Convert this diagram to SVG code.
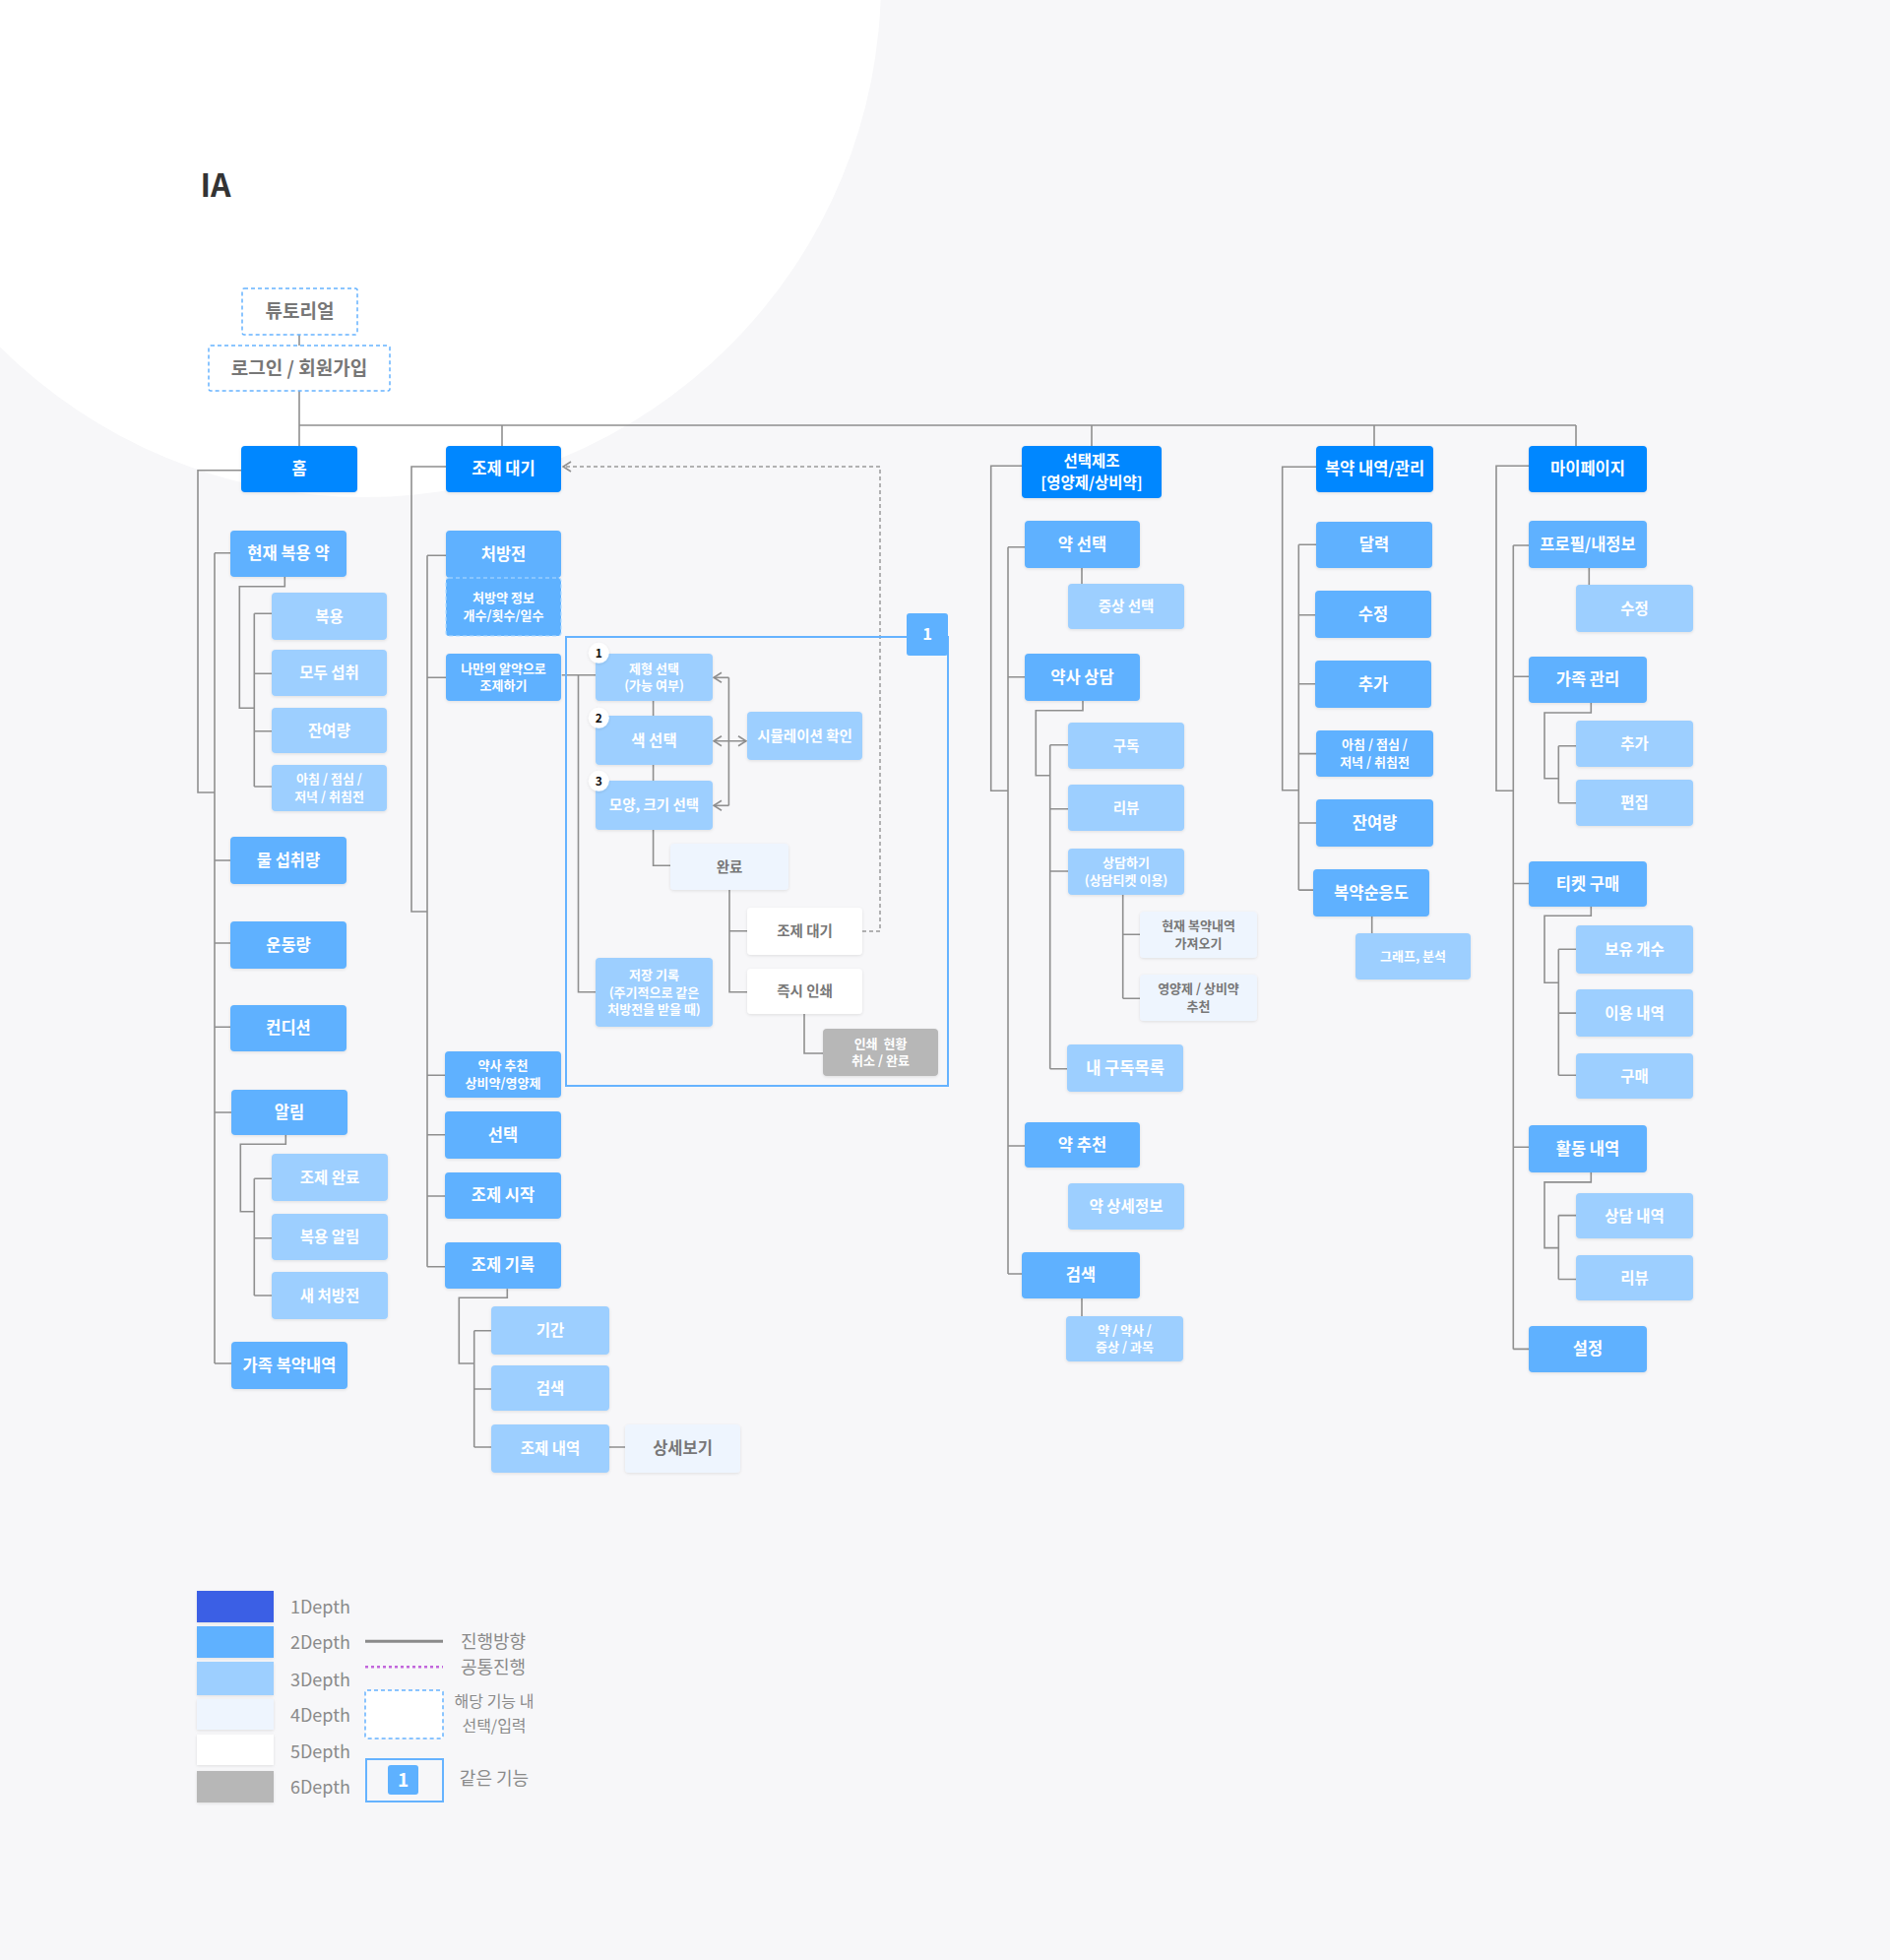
<svg xmlns="http://www.w3.org/2000/svg" width="1920" height="1991" viewBox="0 0 1920 1991">
<style>
  text { font-family: "Noto Sans CJK KR", "Noto Sans", sans-serif; text-anchor: middle; }
  .d1 { fill: #0687ff; }
  .d2 { fill: #5eb1ff; }
  .d3 { fill: #9dcfff; }
  .d4 { fill: #eef5fe; }
  .d5 { fill: #ffffff; }
  .d6 { fill: #b7b7b7; }
  .nd { filter: url(#sh); }
  .dash { fill: #ffffff; stroke: #66b3ff; stroke-width: 1.5; stroke-dasharray: 4 3; }
  .w { fill: #ffffff; font-weight: 700; }
  .wb { fill: #ffffff; font-weight: 700; }
  .g { fill: #777777; font-weight: 700; }
  .f18 { font-size: 19px; }
  .f16 { font-size: 16.5px; }
  .f15 { font-size: 15.5px; }
  .f14 { font-size: 14.5px; }
  .f13 { font-size: 13px; }
  .ln { fill: none; stroke: #8f8f8f; stroke-width: 1.6; }
  .dl { fill: none; stroke: #9a9a9a; stroke-width: 1.5; stroke-dasharray: 4 3; }
  .badge { fill: #ffffff; filter: url(#sh); }
  .bt { fill: #111111; font-size: 12px; font-weight: 700; }
  .lg { fill: #8a8a8a; font-size: 18px; text-anchor: start; }
  .lgm { fill: #8a8a8a; font-size: 18px; }
</style>
<defs>
  <filter id="sh" x="-10%" y="-15%" width="120%" height="140%">
    <feDropShadow dx="0" dy="1" stdDeviation="1.5" flood-color="#000000" flood-opacity="0.1"/>
  </filter>
  <marker id="arr" viewBox="0 0 10 12" refX="9" refY="6" markerWidth="10" markerHeight="12" markerUnits="userSpaceOnUse" orient="auto-start-reverse">
    <path d="M1 1 L9 6 L1 11" fill="none" stroke="#8f8f8f" stroke-width="1.6"/>
  </marker>
</defs>

<!-- backdrop -->
<rect x="0" y="0" width="1920" height="1991" fill="#f7f7f9"/>
<circle cx="370" cy="-20" r="525" fill="#ffffff"/>

<text x="219" y="200" style="font-size:32px;font-weight:700;fill:#333333">IA</text>

<!-- connectors -->
<g id="connectors">
  <!-- entry and top bar -->
  <path class="ln" d="M304 340 V351 M304 397 V453 M304 432 H1601 M510 432 V453 M1109 432 V453 M1396 432 V453 M1601 432 V453"/>

  <!-- home -->
  <path class="ln" d="M245 477.7 H201 V805 H218 M218 561.7 V1385"/>
  <path class="ln" d="M218 561.7 H234 M218 874 H234 M218 958 H234 M218 1043.3 H234 M218 1130 H235 M218 1385 H235"/>
  <path class="ln" d="M289.3 586 V595.7 H243.3 V719.3 H258.3 M258.3 623.3 V799 M258.3 623.3 H276 M258.3 684.3 H276 M258.3 742.7 H276 M258.3 799 H276"/>
  <path class="ln" d="M290.3 1153 V1162.3 H244.3 V1230.7 H258.3 M258.3 1197.3 V1316 M258.3 1197.3 H276 M258.3 1257.7 H276 M258.3 1316 H276"/>

  <!-- dispensing queue -->
  <path class="ln" d="M453 474 H418 V926 H434 M434 564.3 V1286.7"/>
  <path class="ln" d="M434 564.3 H453 M434 688.3 H453 M434 1092.3 H452 M434 1152.7 H452 M434 1215 H452 M434 1286.7 H452"/>
  <path class="ln" d="M570.7 685.7 H605 M587.5 685.7 V1007.7 H605"/>
  <path class="ln" d="M663.6 712 V727 M663.6 777 V793 M663.6 843 V879.3 H681"/>
  <path class="ln" d="M741 904 V1007.7 H759 M741 945.7 H759 M817 1030 V1070 H836"/>
  <path class="ln" d="M740.4 688.3 V818.3"/>
  <path class="ln" d="M740.4 688.3 H725" marker-end="url(#arr)"/>
  <path class="ln" d="M740.4 818.3 H725" marker-end="url(#arr)"/>
  <path class="ln" d="M725 752.7 H758" marker-start="url(#arr)" marker-end="url(#arr)"/>
  <path class="dl" d="M876 946 H894 V474 H572" marker-end="url(#arr)"/>
  <path class="ln" d="M515.3 1309.3 V1318.3 H466.3 V1385 H481.7 M481.7 1351.7 V1470 M481.7 1351.7 H499 M481.7 1411 H499 M481.7 1470 H499 M619 1470 H635"/>

  <!-- selective dispensing -->
  <path class="ln" d="M1038 473.3 H1006.7 V803.3 H1024 M1024 555.7 V1294"/>
  <path class="ln" d="M1024 555.7 H1041 M1024 687.7 H1041 M1024 1164 H1041 M1024 1294 H1038"/>
  <path class="ln" d="M1099 577 V593"/>
  <path class="ln" d="M1100 712 V721.7 H1052.3 V787.7 H1066.7 M1066.7 756.7 V1085.7 M1066.7 756.7 H1085 M1066.7 821.7 H1085 M1066.7 885 H1085 M1066.7 1085.7 H1084"/>
  <path class="ln" d="M1140.7 909 V1014.3 M1140.7 949.3 H1158 M1140.7 1014.3 H1158"/>
  <path class="ln" d="M1099 1319 V1337"/>

  <!-- medication log -->
  <path class="ln" d="M1337 474.3 H1302.7 V802.7 H1319.3 M1319.3 553.2 V904.1"/>
  <path class="ln" d="M1319.3 553.2 H1337 M1319.3 624.7 H1336 M1319.3 694.8 H1336 M1319.3 765.6 H1337 M1319.3 836 H1337 M1319.3 904.1 H1334"/>
  <path class="ln" d="M1393.7 931 V948"/>

  <!-- my page -->
  <path class="ln" d="M1553 473.3 H1520 V803.3 H1537.3 M1537.3 554 V1370.4"/>
  <path class="ln" d="M1537.3 554 H1553 M1537.3 687.3 H1553 M1537.3 897.5 H1553 M1537.3 1165.2 H1553 M1537.3 1370.4 H1553"/>
  <path class="ln" d="M1614.3 577 V594"/>
  <path class="ln" d="M1616.3 714 V724 H1569 V790.7 H1583.3 M1583.3 757.7 V815.7 M1583.3 757.7 H1601 M1583.3 815.7 H1601"/>
  <path class="ln" d="M1616.3 921 V930.2 H1569 V998.2 H1583.3 M1583.3 964.2 V1092.2 M1583.3 964.2 H1601 M1583.3 1029.1 H1601 M1583.3 1092.2 H1601"/>
  <path class="ln" d="M1616.3 1191 V1200.9 H1569 V1267.6 H1583.3 M1583.3 1234.6 V1299.5 M1583.3 1234.6 H1601 M1583.3 1299.5 H1601"/>
</g>

<!-- entry -->
<g id="tutorial"><rect class="dash" x="246" y="293" width="117" height="47" rx="2"/><text class="g f18" x="304.5" y="323.3">튜토리얼</text></g>
<g id="login"><rect class="dash" x="212" y="351" width="184" height="46" rx="2"/><text class="g f18" x="304" y="380.8">로그인 / 회원가입</text></g>

<!-- home column -->
<g id="home"><rect class="d1 nd" x="245" y="453" width="118" height="47" rx="4"/><text class="wb f16" x="304" y="482.3">홈</text></g>
<g id="current-meds"><rect class="d2 nd" x="234" y="539" width="118" height="47" rx="4"/><text class="w f16" x="293" y="568.3">현재 복용 약</text></g>
<g id="take"><rect class="d3 nd" x="276" y="602" width="117" height="48" rx="4"/><text class="w f15" x="334.5" y="631.5">복용</text></g>
<g id="take-all"><rect class="d3 nd" x="276" y="660" width="117" height="47" rx="4"/><text class="w f15" x="334.5" y="689">모두 섭취</text></g>
<g id="remaining"><rect class="d3 nd" x="276" y="719" width="117" height="46" rx="4"/><text class="w f15" x="334.5" y="747.5">잔여량</text></g>
<g id="times"><rect class="d3 nd" x="276" y="777" width="117" height="47" rx="4"/><text class="w f13" x="334.5" y="796.3">아침 / 점심 /</text><text class="w f13" x="334.5" y="813.8">저녁 / 취침전</text></g>
<g id="water"><rect class="d2 nd" x="234" y="850" width="118" height="48" rx="4"/><text class="w f16" x="293" y="879.8">물 섭취량</text></g>
<g id="exercise"><rect class="d2 nd" x="234" y="936" width="118" height="48" rx="4"/><text class="w f16" x="293" y="965.8">운동량</text></g>
<g id="condition"><rect class="d2 nd" x="234" y="1021" width="118" height="47" rx="4"/><text class="w f16" x="293" y="1050.3">컨디션</text></g>
<g id="alarm"><rect class="d2 nd" x="235" y="1107" width="118" height="46" rx="4"/><text class="w f16" x="294" y="1135.8">알림</text></g>
<g id="alarm-done"><rect class="d3 nd" x="276" y="1172" width="118" height="48" rx="4"/><text class="w f15" x="335" y="1201.5">조제 완료</text></g>
<g id="alarm-take"><rect class="d3 nd" x="276" y="1233" width="118" height="47" rx="4"/><text class="w f15" x="335" y="1262">복용 알림</text></g>
<g id="alarm-new"><rect class="d3 nd" x="276" y="1292" width="118" height="48" rx="4"/><text class="w f15" x="335" y="1321.5">새 처방전</text></g>
<g id="family-log"><rect class="d2 nd" x="235" y="1363" width="118" height="48" rx="4"/><text class="w f16" x="294" y="1392.8">가족 복약내역</text></g>

<!-- dispensing queue column -->
<g id="queue"><rect class="d1 nd" x="453" y="453" width="117" height="47" rx="4"/><text class="wb f16" x="511.5" y="482.3">조제 대기</text></g>
<g id="prescription"><rect class="d2 nd" x="453" y="539" width="117" height="48" rx="4"/><text class="w f16" x="511.5" y="568.8">처방전</text></g>
<g id="prescription-info"><rect class="d2" x="453" y="587" width="117" height="59" rx="3" stroke="#b4dcff" stroke-width="1.2" stroke-dasharray="4 3"/><text class="w f13" x="511.5" y="612.3">처방약 정보</text><text class="w f13" x="511.5" y="629.8">개수/횟수/일수</text></g>
<g id="my-pill"><rect class="d2 nd" x="453" y="664" width="117" height="48" rx="4"/><text class="w f13" x="511.5" y="683.8">나만의 알약으로</text><text class="w f13" x="511.5" y="701.3">조제하기</text></g>

<g id="same-function-frame">
  <rect x="575" y="647" width="388" height="456" fill="none" stroke="#66b3ff" stroke-width="2"/>
  <rect class="d2" x="921" y="623" width="42" height="43" rx="3"/>
  <text class="w f16" x="942" y="650.3">1</text>
</g>

<g id="form-select"><rect class="d3 nd" x="605" y="664" width="119" height="48" rx="4"/><text class="w f13" x="664.5" y="683.8">제형 선택</text><text class="w f13" x="664.5" y="701.3">(가능 여부)</text><circle class="badge" cx="608.3" cy="663.3" r="10.5"/><text class="bt" x="608.3" y="667.5">1</text></g>
<g id="color-select"><rect class="d3 nd" x="605" y="727" width="119" height="50" rx="4"/><text class="w f15" x="664.5" y="757.5">색 선택</text><circle class="badge" cx="608.3" cy="729.3" r="10.5"/><text class="bt" x="608.3" y="733.5">2</text></g>
<g id="shape-select"><rect class="d3 nd" x="605" y="793" width="119" height="50" rx="4"/><text class="w f14" x="664.5" y="823.1">모양, 크기 선택</text><circle class="badge" cx="608.3" cy="793.3" r="10.5"/><text class="bt" x="608.3" y="797.5">3</text></g>
<g id="simulation"><rect class="d3 nd" x="759" y="723" width="117" height="49" rx="4"/><text class="w f14" x="817.5" y="752.6">시뮬레이션 확인</text></g>
<g id="done"><rect class="d4 nd" x="681" y="857" width="120" height="47" rx="4"/><text class="g f14" x="741" y="885.6">완료</text></g>
<g id="queue-again"><rect class="d5 nd" x="759" y="922" width="117" height="48" rx="4"/><text class="g f14" x="817.5" y="951.1">조제 대기</text></g>
<g id="print-now"><rect class="d5 nd" x="759" y="984" width="117" height="46" rx="4"/><text class="g f14" x="817.5" y="1012.1">즉시 인쇄</text></g>
<g id="print-status"><rect class="d6 nd" x="836" y="1045" width="117" height="48" rx="4"/><text class="w f13" x="894.5" y="1064.8" xml:space="preserve">인쇄  현황</text><text class="w f13" x="894.5" y="1082.3">취소 / 완료</text></g>
<g id="save-record"><rect class="d3 nd" x="605" y="973" width="119" height="70" rx="4"/><text class="w f13" x="664.5" y="995.1">저장 기록</text><text class="w f13" x="664.5" y="1012.6">(주기적으로 같은</text><text class="w f13" x="664.5" y="1030.1">처방전을 받을 때)</text></g>

<g id="pharmacist-pick"><rect class="d2 nd" x="452" y="1068" width="118" height="47" rx="4"/><text class="w f13" x="511" y="1087.3">약사 추천</text><text class="w f13" x="511" y="1104.8">상비약/영양제</text></g>
<g id="select"><rect class="d2 nd" x="452" y="1129" width="118" height="48" rx="4"/><text class="w f16" x="511" y="1158.8">선택</text></g>
<g id="start"><rect class="d2 nd" x="452" y="1191" width="118" height="47" rx="4"/><text class="w f16" x="511" y="1220.3">조제 시작</text></g>
<g id="history"><rect class="d2 nd" x="452" y="1262" width="118" height="47" rx="4"/><text class="w f16" x="511" y="1291.3">조제 기록</text></g>
<g id="period"><rect class="d3 nd" x="499" y="1327" width="120" height="49" rx="4"/><text class="w f15" x="559" y="1357">기간</text></g>
<g id="history-search"><rect class="d3 nd" x="499" y="1387" width="120" height="46" rx="4"/><text class="w f15" x="559" y="1415.5">검색</text></g>
<g id="history-list"><rect class="d3 nd" x="499" y="1447" width="120" height="49" rx="4"/><text class="w f15" x="559" y="1477">조제 내역</text></g>
<g id="detail"><rect class="d4 nd" x="635" y="1447" width="117" height="49" rx="4"/><text class="g f16" x="693.5" y="1477.3">상세보기</text></g>

<!-- selective dispensing column -->
<g id="selective"><rect class="d1 nd" x="1038" y="453" width="142" height="53" rx="4"/><text class="wb f15" x="1109" y="473.8">선택제조</text><text class="wb f15" x="1109" y="495.8">[영양제/상비약]</text></g>
<g id="med-select"><rect class="d2 nd" x="1041" y="529" width="117" height="48" rx="4"/><text class="w f16" x="1099.5" y="558.8">약 선택</text></g>
<g id="symptom"><rect class="d3 nd" x="1085" y="593" width="118" height="46" rx="4"/><text class="w f14" x="1144" y="621.1">증상 선택</text></g>
<g id="consult"><rect class="d2 nd" x="1041" y="664" width="117" height="48" rx="4"/><text class="w f16" x="1099.5" y="693.8">약사 상담</text></g>
<g id="subscribe"><rect class="d3 nd" x="1085" y="734" width="118" height="47" rx="4"/><text class="w f14" x="1144" y="762.6">구독</text></g>
<g id="review"><rect class="d3 nd" x="1085" y="797" width="118" height="47" rx="4"/><text class="w f14" x="1144" y="825.6">리뷰</text></g>
<g id="do-consult"><rect class="d3 nd" x="1085" y="862" width="118" height="47" rx="4"/><text class="w f13" x="1144" y="881.3">상담하기</text><text class="w f13" x="1144" y="898.8">(상담티켓 이용)</text></g>
<g id="import-log"><rect class="d4 nd" x="1158" y="926" width="119" height="47" rx="4"/><text class="g f13" x="1217.5" y="945.3">현재 복약내역</text><text class="g f13" x="1217.5" y="962.8">가져오기</text></g>
<g id="suggest"><rect class="d4 nd" x="1158" y="990" width="119" height="47" rx="4"/><text class="g f13" x="1217.5" y="1009.3">영양제 / 상비약</text><text class="g f13" x="1217.5" y="1026.8">추천</text></g>
<g id="my-subs"><rect class="d3 nd" x="1084" y="1061" width="118" height="48" rx="4"/><text class="w f16" x="1143" y="1090.8">내 구독목록</text></g>
<g id="med-rec"><rect class="d2 nd" x="1041" y="1140" width="117" height="46" rx="4"/><text class="w f16" x="1099.5" y="1168.8">약 추천</text></g>
<g id="med-detail"><rect class="d3 nd" x="1085" y="1202" width="118" height="47" rx="4"/><text class="w f15" x="1144" y="1231">약 상세정보</text></g>
<g id="search"><rect class="d2 nd" x="1038" y="1272" width="120" height="47" rx="4"/><text class="w f16" x="1098" y="1301.3">검색</text></g>
<g id="search-scope"><rect class="d3 nd" x="1083" y="1337" width="119" height="46" rx="4"/><text class="w f13" x="1142.5" y="1355.8">약 / 약사 /</text><text class="w f13" x="1142.5" y="1373.3">증상 / 과목</text></g>

<!-- medication log column -->
<g id="med-log"><rect class="d1 nd" x="1337" y="453" width="119" height="47" rx="4"/><text class="wb f16" x="1396.5" y="482.3">복약 내역/관리</text></g>
<g id="calendar"><rect class="d2 nd" x="1337" y="530" width="118" height="47" rx="4"/><text class="w f16" x="1396" y="559.3">달력</text></g>
<g id="log-edit"><rect class="d2 nd" x="1336" y="600" width="118" height="48" rx="4"/><text class="w f16" x="1395" y="629.8">수정</text></g>
<g id="log-add"><rect class="d2 nd" x="1336" y="671" width="118" height="48" rx="4"/><text class="w f16" x="1395" y="700.8">추가</text></g>
<g id="log-times"><rect class="d2 nd" x="1337" y="742" width="119" height="47" rx="4"/><text class="w f13" x="1396.5" y="761.3">아침 / 점심 /</text><text class="w f13" x="1396.5" y="778.8">저녁 / 취침전</text></g>
<g id="log-remaining"><rect class="d2 nd" x="1337" y="812" width="119" height="48" rx="4"/><text class="w f16" x="1396.5" y="841.8">잔여량</text></g>
<g id="adherence"><rect class="d2 nd" x="1334" y="883" width="118" height="48" rx="4"/><text class="w f16" x="1393" y="912.8">복약순응도</text></g>
<g id="graph"><rect class="d3 nd" x="1377" y="948" width="117" height="47" rx="4"/><text class="w f13" x="1435.5" y="976.1">그래프, 분석</text></g>

<!-- my page column -->
<g id="mypage"><rect class="d1 nd" x="1553" y="453" width="120" height="47" rx="4"/><text class="wb f16" x="1613" y="482.3">마이페이지</text></g>
<g id="profile"><rect class="d2 nd" x="1553" y="529" width="120" height="48" rx="4"/><text class="w f16" x="1613" y="558.8">프로필/내정보</text></g>
<g id="profile-edit"><rect class="d3 nd" x="1601" y="594" width="119" height="48" rx="4"/><text class="w f15" x="1660.5" y="623.5">수정</text></g>
<g id="family"><rect class="d2 nd" x="1553" y="667" width="120" height="47" rx="4"/><text class="w f16" x="1613" y="696.3">가족 관리</text></g>
<g id="family-add"><rect class="d3 nd" x="1601" y="732" width="119" height="47" rx="4"/><text class="w f15" x="1660.5" y="761">추가</text></g>
<g id="family-edit"><rect class="d3 nd" x="1601" y="792" width="119" height="47" rx="4"/><text class="w f15" x="1660.5" y="821">편집</text></g>
<g id="ticket"><rect class="d2 nd" x="1553" y="875" width="120" height="46" rx="4"/><text class="w f16" x="1613" y="903.8">티켓 구매</text></g>
<g id="ticket-own"><rect class="d3 nd" x="1601" y="940" width="119" height="49" rx="4"/><text class="w f15" x="1660.5" y="970">보유 개수</text></g>
<g id="ticket-use"><rect class="d3 nd" x="1601" y="1005" width="119" height="48" rx="4"/><text class="w f15" x="1660.5" y="1034.5">이용 내역</text></g>
<g id="ticket-buy"><rect class="d3 nd" x="1601" y="1070" width="119" height="46" rx="4"/><text class="w f15" x="1660.5" y="1098.5">구매</text></g>
<g id="activity"><rect class="d2 nd" x="1553" y="1143" width="120" height="48" rx="4"/><text class="w f16" x="1613" y="1172.8">활동 내역</text></g>
<g id="consult-log"><rect class="d3 nd" x="1601" y="1212" width="119" height="46" rx="4"/><text class="w f15" x="1660.5" y="1240.5">상담 내역</text></g>
<g id="my-review"><rect class="d3 nd" x="1601" y="1275" width="119" height="46" rx="4"/><text class="w f15" x="1660.5" y="1303.5">리뷰</text></g>
<g id="settings"><rect class="d2 nd" x="1553" y="1347" width="120" height="47" rx="4"/><text class="w f16" x="1613" y="1376.3">설정</text></g>

<!-- legend -->
<g id="legend">
  <rect x="200" y="1616" width="78" height="32" fill="#3a5fe5" filter="url(#sh)"/>
  <rect x="200" y="1652" width="78" height="32" fill="#5eb1ff" filter="url(#sh)"/>
  <rect x="200" y="1688" width="78" height="34" fill="#9dcfff" filter="url(#sh)"/>
  <rect x="200" y="1726" width="78" height="31" fill="#eef5fe" filter="url(#sh)"/>
  <rect x="200" y="1762" width="78" height="31" fill="#ffffff" filter="url(#sh)"/>
  <rect x="200" y="1799" width="78" height="32" fill="#b7b7b7" filter="url(#sh)"/>
  <text class="lg" x="295" y="1639">1Depth</text>
  <text class="lg" x="295" y="1675">2Depth</text>
  <text class="lg" x="295" y="1713">3Depth</text>
  <text class="lg" x="295" y="1749">4Depth</text>
  <text class="lg" x="295" y="1786">5Depth</text>
  <text class="lg" x="295" y="1822">6Depth</text>
  <path d="M371 1667.3 H450" stroke="#8a8a8a" stroke-width="3" fill="none"/>
  <text class="lgm" x="501" y="1674">진행방향</text>
  <path d="M371 1693.3 H450" stroke="#c266dc" stroke-width="2.5" stroke-dasharray="3 3" fill="none"/>
  <text class="lgm" x="501" y="1700">공통진행</text>
  <rect class="dash" x="371" y="1717" width="79" height="49" rx="2"/>
  <text class="lgm" x="502" y="1734" style="font-size:16px">해당 기능 내</text>
  <text class="lgm" x="502" y="1758.5" style="font-size:16px">선택/입력</text>
  <rect x="372" y="1787" width="78" height="43" fill="none" stroke="#66b3ff" stroke-width="2"/>
  <rect class="d2" x="394" y="1793" width="31" height="30" rx="3"/>
  <text class="w f18" x="409.5" y="1814.5">1</text>
  <text class="lgm" x="502" y="1812.7">같은 기능</text>
</g>
</svg>
